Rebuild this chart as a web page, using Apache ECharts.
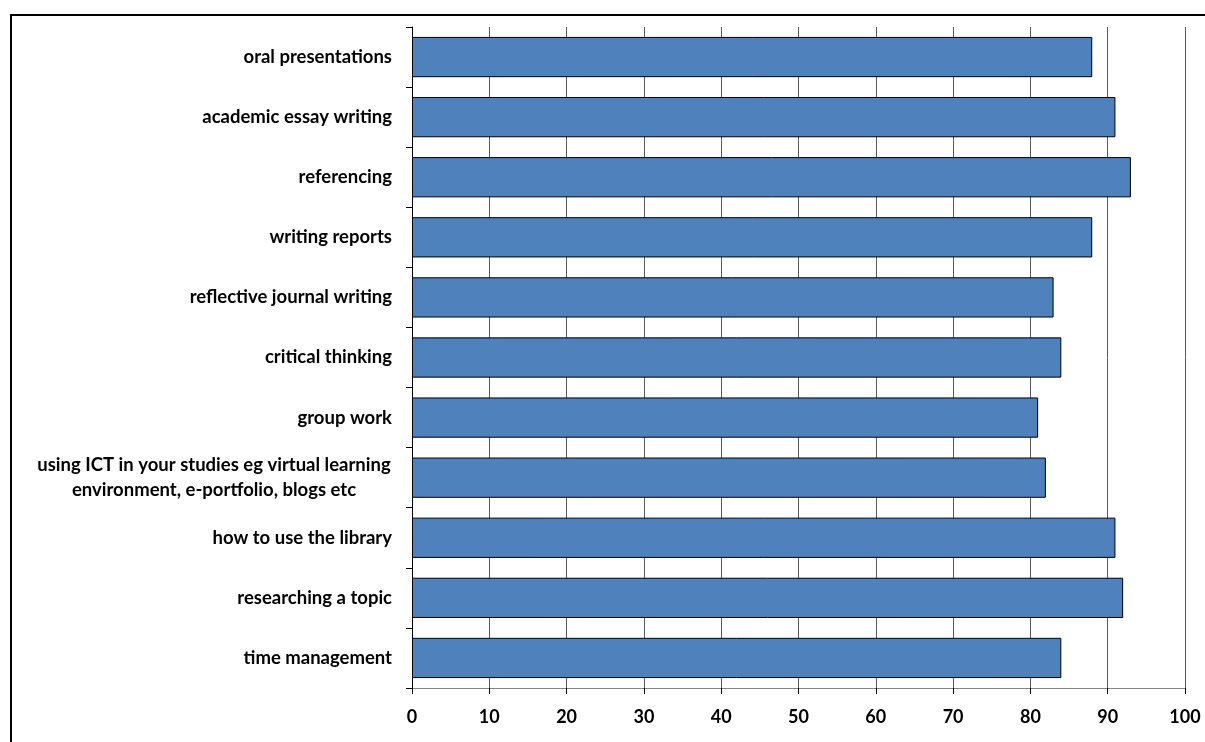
<!DOCTYPE html>
<html>
<head>
<meta charset="utf-8">
<script src="https://cdn.jsdelivr.net/npm/echarts@6/dist/echarts.min.js"></script>
<style>
  html, body { margin: 0; padding: 0; background: #fff; }
  #chart { width: 1205px; height: 742px; }
</style>
</head>
<body>
<div id="chart"></div>
<script>
// Study skills topics, listed top to bottom
const categories = [
  'oral presentations',
  'academic essay writing',
  'referencing',
  'writing reports',
  'reflective journal writing',
  'critical thinking',
  'group work',
  'using ICT in your studies eg virtual learning\nenvironment, e-portfolio, blogs etc',
  'how to use the library',
  'researching a topic',
  'time management'
];
const values = [88, 91, 93, 88, 83, 84, 81, 82, 91, 92, 84];
const xTicks = [0, 10, 20, 30, 40, 50, 60, 70, 80, 90, 100];

const FONT = 'Lato, "Open Sans", sans-serif';
const LABEL_SIZE = 18.5;

const chart = echarts.init(document.getElementById('chart'), null, { renderer: 'canvas' });
chart.setOption({
  backgroundColor: '#ffffff',
  animation: false,
  graphic: [{
    type: 'rect',
    shape: { x: 11, y: 15, width: 1400, height: 900 },
    style: { fill: 'none', stroke: '#000', lineWidth: 2 },
    silent: true,
    z: -1
  }],
  grid: { left: 412, right: 20, top: 27, bottom: 54, containLabel: false },
  xAxis: {
    type: 'value',
    min: xTicks[0],
    max: xTicks[xTicks.length - 1],
    interval: 10,
    axisLine: { show: true, lineStyle: { color: '#868686', width: 1 } },
    axisTick: { show: true, length: 6, lineStyle: { color: '#000', width: 1 } },
    axisLabel: {
      margin: 20,
      color: '#000',
      fontFamily: FONT,
      fontWeight: 'bold',
      fontSize: 18,
      formatter: v => String(v)
    },
    splitLine: { show: true, lineStyle: { color: '#5a5a5a', width: 1 } }
  },
  yAxis: {
    type: 'category',
    inverse: true,
    data: categories,
    axisLine: { show: true, lineStyle: { color: '#000', width: 1 } },
    axisTick: { show: true, length: 6, lineStyle: { color: '#000', width: 1 } },
    axisLabel: {
      margin: 20,
      color: '#000',
      fontFamily: FONT,
      fontWeight: 'bold',
      fontSize: LABEL_SIZE,
      lineHeight: 25,
      // two-line labels: each line centred inside a fixed-width block
      formatter: function (v) {
        if (v.indexOf('\n') < 0) return v;
        return v.split('\n').map(l => '{c|' + l + '}').join('\n');
      },
      rich: {
        c: {
          width: 356,
          align: 'center',
          color: '#000',
          fontFamily: FONT,
          fontWeight: 'bold',
          fontSize: LABEL_SIZE,
          lineHeight: 25
        }
      }
    }
  },
  series: [{
    type: 'bar',
    data: values,
    barCategoryGap: '33%',
    itemStyle: { color: '#4f81bd', borderColor: '#000', borderWidth: 1 }
  }]
});
</script>
</body>
</html>
